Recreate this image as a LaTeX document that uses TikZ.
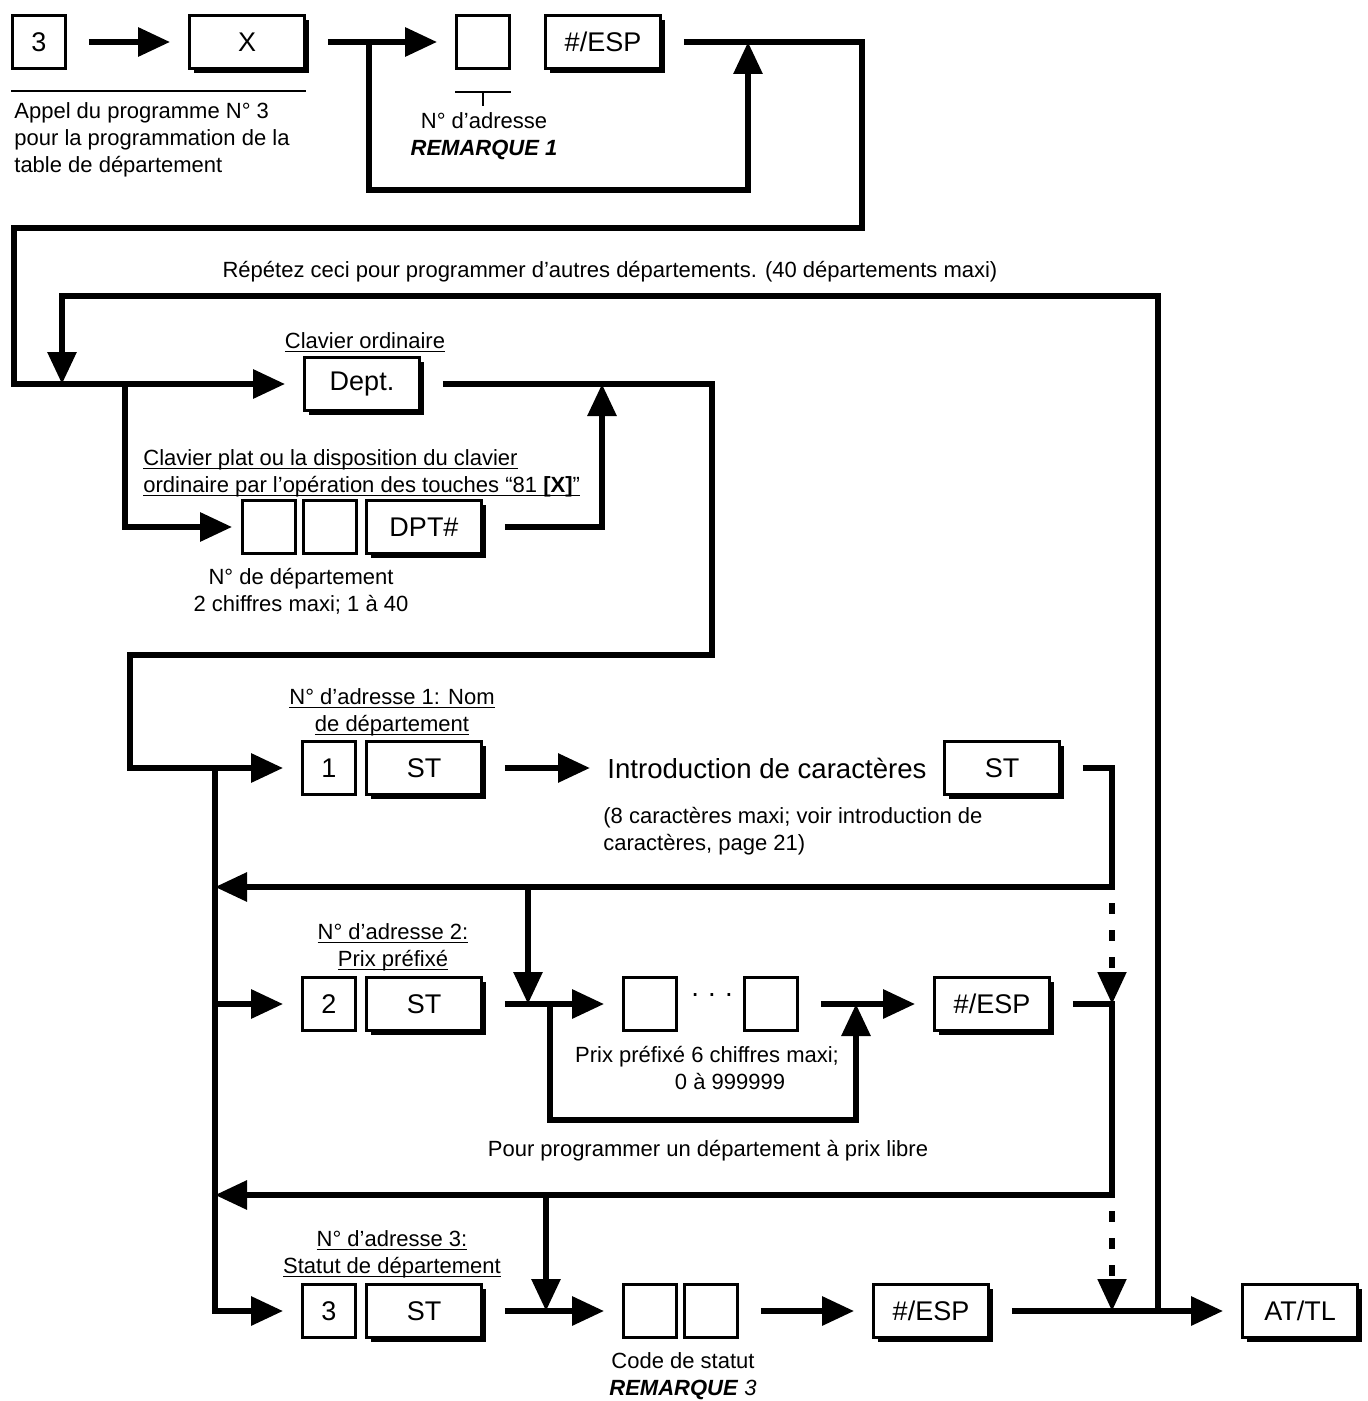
\documentclass[tikz,border=0pt]{standalone}
\usepackage{fontspec}
\setmainfont{Liberation Sans}
\usetikzlibrary{arrows.meta,shadows}

\newcommand\undl[1]{\underline{\smash{#1}}}

\tikzset{
  link/.style={line width=3pt},
  flow/.style={link, -{Triangle[length=16pt,width=14pt]}},
  loose/.style={line width=2.6pt, dash pattern=on 5.5pt off 8pt, -{Triangle[length=16pt,width=14pt]}},
  gapout/.style={shorten <=11pt},
  gapin/.style={shorten >=9pt},
  digit/.style={draw, line width=1.4pt, fill=white, minimum width=26.5pt, minimum height=26.5pt,
    inner sep=0pt, font=\fontsize{13.5}{16}\selectfont},
  key/.style={digit, minimum width=57.5pt, general shadow={fill=black, shadow xshift=2.3pt, shadow yshift=-2.3pt}},
  note/.style={inner sep=0pt, align=center, font=\fontsize{11}{13.5}\selectfont},
  big/.style={inner sep=0pt, font=\fontsize{13.8}{16}\selectfont},
  rule/.style={line width=1.3pt}
}

\begin{document}
\begin{tikzpicture}[x=0.5pt, y=-0.5pt]
    \useasboundingbox (0,0) rectangle (1368,1401);

    \node[digit] (prog) at (39,42) {3};
    \node[key] (keyx) at (247,42) {X};
    \node[digit] (adr) at (483,42) {};
    \node[key] (espa) at (603,42) {\#/ESP};

    \draw[rule] ([yshift=-10.5pt]prog.south west) -- ([yshift=-10.5pt]prog.south west -| keyx.east);
    \node[note, align=left, anchor=west] (appel) at (14,140) {Appel du programme N° 3\\pour la programmation de la\\table de département};

    \draw[rule] ([yshift=-11pt]adr.south west) -- ([yshift=-11pt]adr.south east);
    \draw[rule] ([yshift=-11pt]adr.south) -- ([yshift=-18pt]adr.south);
    \node[note] (adrnote) at (484,136) {N° d’adresse\\\textbf{\textit{REMARQUE 1}}};

    \coordinate (splita) at (369,42);
    \coordinate (loopa) at (748,190);
    \coordinate (outa) at (862,228);
    \coordinate (outb) at (14,228);
    \draw[flow, gapout, gapin] (prog) -- (keyx);
    \draw[flow, gapout, gapin] (keyx) -- (adr);
    \draw[flow] (splita) |- (loopa) -- (loopa |- espa);

    \node[note] (repeat) at (610,272) {Répétez ceci pour programmer d’autres départements. (40 départements maxi)};
    \node[note] (ordinaire) at (365,351) {\undl{Clavier ordinaire}};
    \node[key] (dept) at (362,384) {Dept.};

    \coordinate (backr) at (1158,1311);
    \coordinate (backl) at (62,296);
    \draw[flow, gapout, gapin] (espa.east) -| (outa) -- (outb) |- (dept.west);
    \draw[flow] (backr) |- (backl) -- (backl |- dept);

    \node[note, align=left, anchor=west] (plat) at (143,481) {\undl{Clavier plat ou la disposition du clavier}\\\undl{ordinaire par l’opération des touches “81 \textbf{[X]}”}};
    \node[digit] (dga) at (269,527) {};
    \node[digit] (dgb) at (330,527) {};
    \node[key] (dpt) at (424,527) {DPT\#};
    \node[note] (dptnote) at (301,591) {N° de département\\2 chiffres maxi; 1 à 40};

    \coordinate (splitb) at (125,384);
    \coordinate (joinb) at (602,384);
    \draw[flow, shorten >=4.5pt] (splitb) |- (dga.west);
    \draw[flow, gapout] (dpt.east) -| (joinb);

    \node[note] (lab1) at (392,720) {\undl{N° d’adresse 1: Nom}\\\undl{de département}};
    \node[digit] (ad1) at (329,768) {1};
    \node[key] (st1) at (424,768) {ST};
    \node[big, anchor=west] (intro) at (607,768) {Introduction de caractères};
    \node[key] (st1b) at (1002,768) {ST};
    \node[note, align=left, anchor=west] (intronote) at (603,831) {(8 caractères maxi; voir introduction de\\caractères, page 21)};

    \coordinate (outc) at (712,655);
    \coordinate (outd) at (130,655);
    \draw[flow, gapout, gapin] (dept.east) -| (outc) -- (outd) |- (ad1.west);
    \draw[flow, gapout, shorten >=8.5pt] (st1.east) -- (st1.east -| intro.west);

    \node[note] (lab2) at (393,955) {\undl{N° d’adresse 2:}\\\undl{Prix préfixé}};
    \node[digit] (ad2) at (329,1004) {2};
    \node[key] (st2) at (424,1004) {ST};
    \node[digit] (pra) at (650,1004) {};
    \node[big] (dots) at (712,998) {· · ·};
    \node[digit] (prb) at (771,1004) {};
    \node[key] (espb) at (992,1004) {\#/ESP};
    \node[note] (prnote) at (707,1068) {Prix préfixé 6 chiffres maxi;\\\hspace*{23pt}0 à 999999};
    \node[note] (libre) at (708,1151) {Pour programmer un département à prix libre};

    \coordinate (bus) at (215,768);
    \coordinate (retb) at (1112,887);
    \coordinate (dropb) at (528,887);
    \draw[flow, gapout] (st1b.east) -| (retb) -- (bus |- retb);
    \draw[flow] (dropb) -- (dropb |- ad2);
    \draw[loose, shorten <=8pt] (retb) -- (retb |- espb);

    \coordinate (splitc) at (550,1004);
    \coordinate (loopc) at (856,1120);
    \draw[flow, gapin] (bus |- ad2) -- (ad2);
    \draw[flow, gapout, gapin] (st2) -- (pra);
    \draw[flow] (splitc) |- (loopc) -- (loopc |- espb);
    \draw[flow, gapout, gapin] (prb) -- (espb);

    \node[note] (lab3) at (392,1262) {\undl{N° d’adresse 3:}\\\undl{Statut de département}};
    \node[digit] (ad3) at (329,1311) {3};
    \node[key] (st3) at (424,1311) {ST};
    \node[digit] (sca) at (650,1311) {};
    \node[digit] (scb) at (711,1311) {};
    \node[key] (espc) at (931,1311) {\#/ESP};
    \node[key] (attl) at (1300,1311) {AT/TL};
    \node[note] (scnote) at (683,1376) {Code de statut\\\textbf{\textit{REMARQUE}} \textit{3}};

    \coordinate (retc) at (1112,1195);
    \coordinate (dropc) at (546,1195);
    \draw[flow, gapout] (espb.east) -| (retc) -- (bus |- retc);
    \draw[flow] (dropc) -- (dropc |- ad3);
    \draw[loose, shorten <=8pt] (retc) -- (retc |- espc);

    \draw[flow, gapin] (bus) |- (ad3);
    \draw[flow, gapout, gapin] (st3) -- (sca);
    \draw[flow, gapout, gapin] (scb) -- (espc);
    \draw[flow, gapout, gapin] (espc) -- (attl);
\end{tikzpicture}
\end{document}
